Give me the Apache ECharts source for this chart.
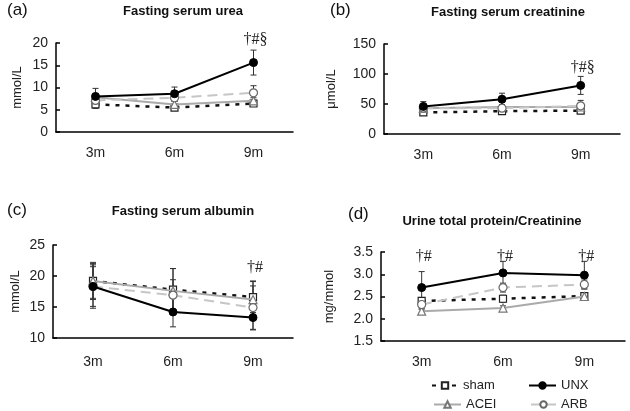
<!DOCTYPE html>
<html><head><meta charset="utf-8">
<script src="https://cdn.jsdelivr.net/npm/echarts@6/dist/echarts.min.js"></script>
<style>html,body{margin:0;padding:0;background:#fff}#c{width:630px;height:411px}</style>
</head><body><div id="c"></div>
<script>
const categories = ['3m', '6m', '9m'];
const groups = ['sham', 'ACEI', 'ARB', 'UNX'];

// (a) Fasting serum urea (mmol/L)
const ureaSham = [6.2, 5.5, 6.4];
const ureaACEI = [7.8, 6.2, 7.0];
const ureaARB = [7.1, 7.7, 8.8];
const ureaUNX = [8.0, 8.6, 15.6];
const ureaShamErr = [0.9, 0.6, 0.6];
const ureaACEIErr = [0.8, 0.7, 0.7];
const ureaARBErr = [1.0, 0.8, 1.6];
const ureaUNXErr = [1.8, 1.5, 2.8];
const ureaTicks = [0, 5, 10, 15, 20];
const ureaMarks = ['', '', '†#§'];

// (b) Fasting serum creatinine (µmol/L)
const creaSham = [36, 38, 39];
const creaACEI = [43, 45, 45];
const creaARB = [43, 43, 47];
const creaUNX = [46, 58, 81];
const creaShamErr = [4, 5, 4];
const creaACEIErr = [4, 4, 5];
const creaARBErr = [6, 6, 9];
const creaUNXErr = [8, 10, 15];
const creaTicks = [0, 50, 100, 150];
const creaMarks = ['', '', '†#§'];

// (c) Fasting serum albumin (mmol/L)
const albSham = [19.2, 17.8, 16.6];
const albACEI = [19.2, 17.6, 16.2];
const albARB = [18.3, 16.9, 14.9];
const albUNX = [18.3, 14.2, 13.3];
const albShamErr = [2.8, 3.4, 2.5];
const albACEIErr = [3.0, 3.6, 3.0];
const albARBErr = [3.5, 2.5, 3.5];
const albUNXErr = [3.2, 2.4, 2.0];
const albTicks = [10, 15, 20, 25];
const albMarks = ['', '', '†#'];

// (d) Urine total protein/Creatinine (mg/mmol)
const uprSham = [2.40, 2.45, 2.51];
const uprACEI = [2.17, 2.24, 2.50];
const uprARB = [2.32, 2.70, 2.77];
const uprUNX = [2.70, 3.03, 2.98];
const uprShamErr = [0.07, 0.08, 0.05];
const uprACEIErr = [0.05, 0.05, 0.05];
const uprARBErr = [0.10, 0.10, 0.10];
const uprUNXErr = [0.36, 0.26, 0.31];
const uprTicks = [1.5, 2.0, 2.5, 3.0, 3.5];
const uprMarks = ['†#', '†#', '†#'];

const titles = ['Fasting serum urea', 'Fasting serum creatinine', 'Fasting serum albumin', 'Urine total protein/Creatinine'];
const panelLabels = ['(a)', '(b)', '(c)', '(d)'];
const units = ['mmol/L', 'μmol/L', 'mmol/L', 'mg/mmol'];

const panels = [
  { vals: [ureaSham, ureaACEI, ureaARB, ureaUNX], errs: [ureaShamErr, ureaACEIErr, ureaARBErr, ureaUNXErr], ticks: ureaTicks, marks: ureaMarks, markY: [0, 0, 20.8], dec: 0 },
  { vals: [creaSham, creaACEI, creaARB, creaUNX], errs: [creaShamErr, creaACEIErr, creaARBErr, creaUNXErr], ticks: creaTicks, marks: creaMarks, markY: [0, 0, 111], dec: 0 },
  { vals: [albSham, albACEI, albARB, albUNX], errs: [albShamErr, albACEIErr, albARBErr, albUNXErr], ticks: albTicks, marks: albMarks, markY: [0, 0, 21.3], dec: 0 },
  { vals: [uprSham, uprACEI, uprARB, uprUNX], errs: [uprShamErr, uprACEIErr, uprARBErr, uprUNXErr], ticks: uprTicks, marks: uprMarks, markY: [3.39, 3.39, 3.39], dec: 1 }
];

// layout
const grids = [
  { left: 56, top: 43, width: 237, height: 89 },
  { left: 384, top: 44, width: 236, height: 90 },
  { left: 53, top: 245, width: 240, height: 93 },
  { left: 381, top: 252, width: 244, height: 89 }
];
const nameGaps = [32, 46, 31, 45];
const labelMargins = [14, 14, 17, 14];
const titlePos = [[183, 5], [508, 6], [183, 205], [492, 215]];
const labelPos = [[7, 2], [330, 2], [7, 202], [348, 206]];

const styles = {
  sham: { line: { color: '#111', width: 2.5, type: [4, 6] }, symbol: 'rect', size: 7, item: { color: '#fff', borderColor: '#222', borderWidth: 1.2 } },
  ACEI: { line: { color: '#aaa', width: 2 }, symbol: 'triangle', size: 8, item: { color: '#fff', borderColor: '#777', borderWidth: 1.2 } },
  ARB: { line: { color: '#c6c6c6', width: 2, type: [10, 6] }, symbol: 'circle', size: 8, item: { color: '#fff', borderColor: '#666', borderWidth: 1.2 } },
  UNX: { line: { color: '#000', width: 2 }, symbol: 'circle', size: 8, item: { color: '#000', borderColor: '#000', borderWidth: 1 } }
};

const FONT = 'Liberation Sans';
const option = {
  animation: false,
  backgroundColor: '#fff',
  textStyle: { fontFamily: FONT },
  title: [], grid: [], xAxis: [], yAxis: [], series: [], legend: []
};

panels.forEach((p, i) => {
  option.grid.push(grids[i]);
  option.title.push({ text: titles[i], left: titlePos[i][0], top: titlePos[i][1], textAlign: 'center', padding: 0,
    textStyle: { fontFamily: FONT, fontSize: 13, fontWeight: 'bold', color: '#111' } });
  option.title.push({ text: panelLabels[i], left: labelPos[i][0], top: labelPos[i][1], padding: 0,
    textStyle: { fontFamily: FONT, fontSize: 17, fontWeight: 'normal', color: '#111' } });
  option.xAxis.push({
    type: 'category', gridIndex: i, data: categories, boundaryGap: true,
    axisLine: { lineStyle: { color: '#000', width: 1.5 } },
    axisTick: { inside: true, length: 4, alignWithLabel: false, lineStyle: { color: '#000', width: 1.5 } },
    axisLabel: { fontSize: 14, color: '#222', margin: labelMargins[i], fontFamily: FONT }
  });
  const t = p.ticks;
  option.yAxis.push({
    type: 'value', gridIndex: i, min: t[0], max: t[t.length - 1], interval: t[1] - t[0],
    name: units[i], nameLocation: 'middle', nameRotate: 90, nameGap: nameGaps[i],
    nameTextStyle: { fontSize: 13, color: '#222', fontFamily: FONT },
    axisLine: { show: true, lineStyle: { color: '#000', width: 1.5 } },
    axisTick: { show: true, inside: true, length: 4, lineStyle: { color: '#000', width: 1.5 } },
    splitLine: { show: false },
    axisLabel: { fontSize: 14, color: '#222', margin: 8, fontFamily: FONT, formatter: v => v.toFixed(p.dec) }
  });
  // error bars
  groups.forEach((g, k) => {
    option.series.push({
      type: 'custom', xAxisIndex: i, yAxisIndex: i, z: 1, silent: true,
      data: p.vals[k].map((v, j) => [j, v, p.errs[k][j]]),
      encode: { x: 0, y: 1 },
      renderItem: (params, api) => {
        const x = api.value(0), y = api.value(1), e = api.value(2);
        const a = api.coord([x, y + e]), b = api.coord([x, y - e]);
        const w = 3, st = { stroke: '#333', lineWidth: 1 };
        return { type: 'group', children: [
          { type: 'line', shape: { x1: a[0], y1: a[1], x2: b[0], y2: b[1] }, style: st },
          { type: 'line', shape: { x1: a[0] - w, y1: a[1], x2: a[0] + w, y2: a[1] }, style: st },
          { type: 'line', shape: { x1: b[0] - w, y1: b[1], x2: b[0] + w, y2: b[1] }, style: st }
        ] };
      }
    });
  });
  groups.forEach((g, k) => {
    const s = styles[g];
    option.series.push({
      name: g, type: 'line', xAxisIndex: i, yAxisIndex: i, z: 3 + k,
      data: p.vals[k], symbol: s.symbol, symbolSize: s.size, showSymbol: true,
      lineStyle: s.line, itemStyle: s.item, emphasis: { disabled: true }
    });
  });
  // significance marks
  option.series.push({
    type: 'custom', xAxisIndex: i, yAxisIndex: i, z: 10, silent: true,
    data: p.marks.map((m, j) => [j, p.markY[j]]),
    encode: { x: 0, y: 1 },
    renderItem: (params, api) => {
      const txt = p.marks[params.dataIndex];
      if (!txt) return null;
      const c = api.coord([api.value(0), api.value(1)]);
      return { type: 'text', x: c[0] + 2, y: c[1],
        style: { text: txt, fill: '#222', font: '16px "Liberation Serif"', align: 'center', verticalAlign: 'middle' } };
    }
  });
});

const legendPos = [['sham', 431, 379, 26], ['UNX', 528, 379, 27], ['ACEI', 433, 398, 27], ['ARB', 530, 398, 25]];
legendPos.forEach(([n, l, t, w]) => {
  option.legend.push({ data: [n], left: l, top: t, padding: 0, itemWidth: w, itemHeight: 8, itemGap: 0,
    selectedMode: false, textStyle: { fontSize: 13, color: '#222', fontFamily: FONT } });
});

const chart = echarts.init(document.getElementById('c'), null, { renderer: 'canvas' });
chart.setOption(option);
</script>
</body></html>
